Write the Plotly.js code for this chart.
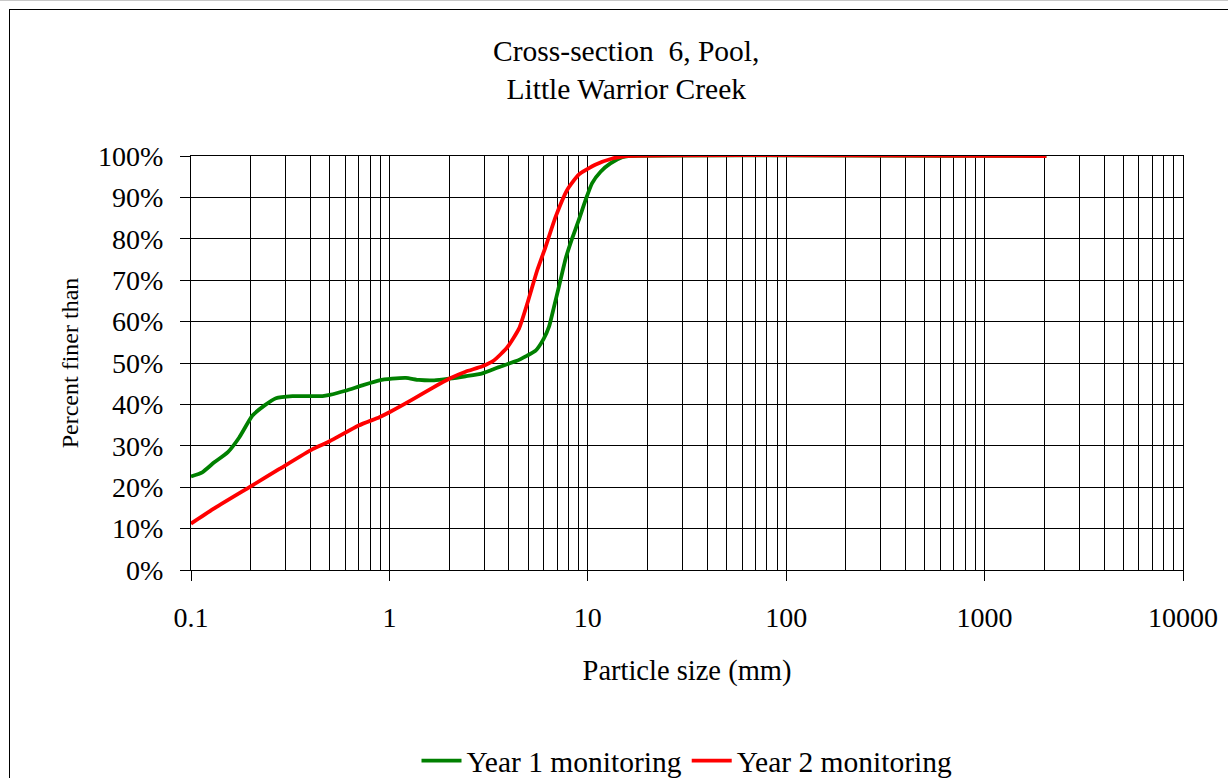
<!DOCTYPE html>
<html>
<head>
<meta charset="utf-8">
<script src="https://cdn.plot.ly/plotly-3.0.1.min.js"></script>
<style>
html, body { margin: 0; padding: 0; background: #fff; overflow: hidden; }
#wrap { position: relative; width: 1228px; height: 778px; }
#chart { position: absolute; left: 0; top: 0; width: 1228px; height: 778px; }
#topline { position: absolute; left: 0; top: 0; width: 1228px; height: 0; border-top: 1px solid #c8c8c8; pointer-events: none; }
#frame { position: absolute; left: 9px; top: 9px; width: 1300px; height: 900px; border-left: 1px solid #000; border-top: 1px solid #000; pointer-events: none; }
</style>
</head>
<body>
<div id="wrap">
  <div id="chart"></div>
  <div id="topline"></div>
  <div id="frame"></div>
</div>
<script>
// Particle size (mm) and percent finer
const sizeYear1 = [0.1, 0.114, 0.131, 0.153, 0.175, 0.204, 0.234, 0.268, 0.325, 0.46, 0.5, 0.6, 0.73, 0.89, 1.03, 1.21, 1.41, 1.68, 2.0, 2.42, 2.94, 3.56, 4.32, 4.95, 5.46, 6.0, 6.37, 6.75, 7.15, 7.73, 8.34, 9.0, 9.73, 10.5, 11.6, 13.0, 14.9, 16, 2048];
const pctYear1  = [22.6, 23.6, 26.0, 28.4, 32.0, 37.3, 39.7, 41.5, 42.0, 42.0, 42.3, 43.3, 44.6, 45.8, 46.2, 46.4, 45.9, 45.8, 46.2, 46.8, 47.5, 49.0, 50.4, 51.8, 53.0, 55.9, 58.7, 63.5, 68.4, 75.2, 80.1, 84.5, 89.3, 93.4, 96.2, 98.2, 99.7, 100, 100];

const sizeYear2 = [0.1, 0.129, 0.2, 0.279, 0.41, 0.5, 0.7, 0.89, 1.0, 1.31, 1.65, 2.0, 2.42, 2.94, 3.36, 3.93, 4.5, 4.95, 5.56, 6.12, 6.88, 7.87, 9.0, 10.9, 13.3, 15.5, 2048];
const pctYear2  = [11.2, 14.7, 20.2, 24.4, 29.2, 31.1, 34.9, 36.9, 38.1, 41.2, 44.0, 46.2, 47.9, 49.2, 50.6, 53.8, 58.3, 64.3, 72.4, 78.0, 85.3, 91.8, 95.5, 97.9, 99.4, 100, 100];

const seriesNames = ["Year 1 monitoring", "Year 2 monitoring"];
const xTickVals = [0.1, 1, 10, 100, 1000, 10000];
const xTickText = ["0.1", "1", "10", "100", "1000", "10000"];
const yTickVals = [0, 10, 20, 30, 40, 50, 60, 70, 80, 90, 100];
const yTickText = ["0%", "10%", "20%", "30%", "40%", "50%", "60%", "70%", "80%", "90%", "100%"];

const FONT = "'Liberation Serif', 'Times New Roman', Times, serif";

const traces = [
  { x: sizeYear1, y: pctYear1, name: seriesNames[0], type: "scatter", mode: "lines",
    line: { color: "#008000", width: 3.8, shape: "spline", smoothing: 0.5 } },
  { x: sizeYear2, y: pctYear2, name: seriesNames[1], type: "scatter", mode: "lines",
    line: { color: "#ff0000", width: 3.8, shape: "spline", smoothing: 0.5 } }
];

const layout = {
  width: 1228, height: 778,
  paper_bgcolor: "rgba(0,0,0,0)", plot_bgcolor: "#fff",
  font: { family: FONT, size: 28, color: "#000" },
  margin: { l: 191, r: 45, t: 156, b: 208, pad: 0 },
  title: {
    text: "Cross-section\u00a0 6, Pool,<br>Little Warrior Creek",
    font: { family: FONT, size: 29.5, color: "#000" },
    x: 0.51, xref: "container", xanchor: "center",
    y: 1 - 61 / 778, yref: "container", yanchor: "top"
  },
  xaxis: {
    type: "log", range: [-1, 4],
    tickmode: "array", tickvals: xTickVals, ticktext: xTickText,
    ticks: "outside", ticklen: 10, tickcolor: "#000", tickwidth: 1,
    ticklabelstandoff: 12,
    showgrid: true, gridcolor: "#000", gridwidth: 1,
    minor: { dtick: "D1", showgrid: true, gridcolor: "#000", gridwidth: 1, ticks: "" },
    showline: true, linecolor: "#000", linewidth: 1, mirror: true,
    zeroline: false,
    title: { text: "Particle size (mm)", font: { family: FONT, size: 28.5, color: "#000" }, standoff: 28 },
    tickfont: { family: FONT, size: 28, color: "#000" },
    automargin: false
  },
  yaxis: {
    range: [0, 100],
    tickmode: "array", tickvals: yTickVals, ticktext: yTickText,
    ticks: "outside", ticklen: 10, tickcolor: "#000", tickwidth: 1,
    ticklabelstandoff: 11,
    showgrid: true, gridcolor: "#000", gridwidth: 1,
    showline: true, linecolor: "#000", linewidth: 1, mirror: true,
    zeroline: false,
    title: { text: "Percent finer than", font: { family: FONT, size: 24, color: "#000" }, standoff: 12 },
    tickfont: { family: FONT, size: 28, color: "#000" },
    automargin: false
  },
  showlegend: true,
  legend: {
    orientation: "h", x: 0.5, xref: "paper", xanchor: "center",
    y: 1 - 761 / 778, yref: "container", yanchor: "middle",
    font: { family: FONT, size: 29.5, color: "#000" },
    bgcolor: "rgba(0,0,0,0)", itemwidth: 40, tracegroupgap: 0
  }
};

Plotly.newPlot("chart", traces, layout, { displayModeBar: false, staticPlot: true });
</script>
</body>
</html>
